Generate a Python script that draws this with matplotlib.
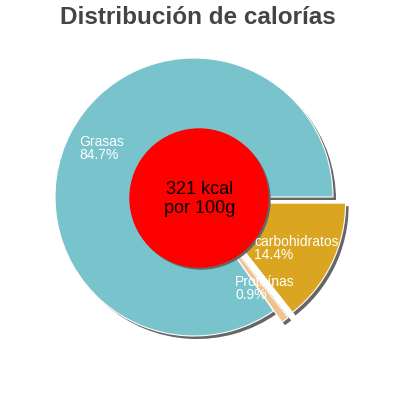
import matplotlib.pyplot as plt
from matplotlib.patches import Circle

plt.rcParams['font.family'] = ['Liberation Sans', 'DejaVu Sans']

# data
labels = ["Grasas", "Proteínas", "carbohidratos"]
values = [84.7, 0.9, 14.4]
colors = ["#79C3CC", "#F0C38C", "#DAA520"]
explode_px = [0.0, 14.0, 14.0]
kcal_text = "321 kcal\npor 100g"
title = "Distribución de calorías"

fig = plt.figure(figsize=(4, 4), dpi=100)
ax = fig.add_axes([0, 0, 1, 1])

cx, cy, r = 194, 203, 139

# shadow first (explode in matplotlib is in data units, not radius fractions)
ax.pie(values, explode=explode_px, colors=["#666666"] * 3, radius=r,
       center=(cx + 3, cy - 3), startangle=0, counterclock=True,
       wedgeprops=dict(linewidth=0), frame=True)
ax.pie(values, explode=explode_px, colors=colors, radius=r,
       center=(cx, cy), startangle=0, counterclock=True,
       wedgeprops=dict(edgecolor="white", linewidth=0.8), frame=True)
ax.set_xlim(0, 400)
ax.set_ylim(0, 400)
ax.set_aspect("equal")
ax.axis("off")

# centre circle
ax.add_patch(Circle((201, 200), 69, color="#666666", zorder=5))
ax.add_patch(Circle((199, 202), 69, color="#FF0000", zorder=6))
ax.text(200, 201, kcal_text, ha="center", va="center", fontsize=13,
        color="black", linespacing=1.1, zorder=7)

# slice labels
label_pos = [(79, 265), (235, 125), (254, 165)]
for name, val, (x, y) in zip(labels, values, label_pos):
    ax.text(x, y, f"{name}\n{val}%", ha="left", va="top", fontsize=10,
            color="white", linespacing=0.9, zorder=8)

fig.text(0.495, 0.955, title, ha="center", va="center", fontsize=17.5,
         fontweight="bold", color="#444444")

fig.savefig("out.png", dpi=100)
